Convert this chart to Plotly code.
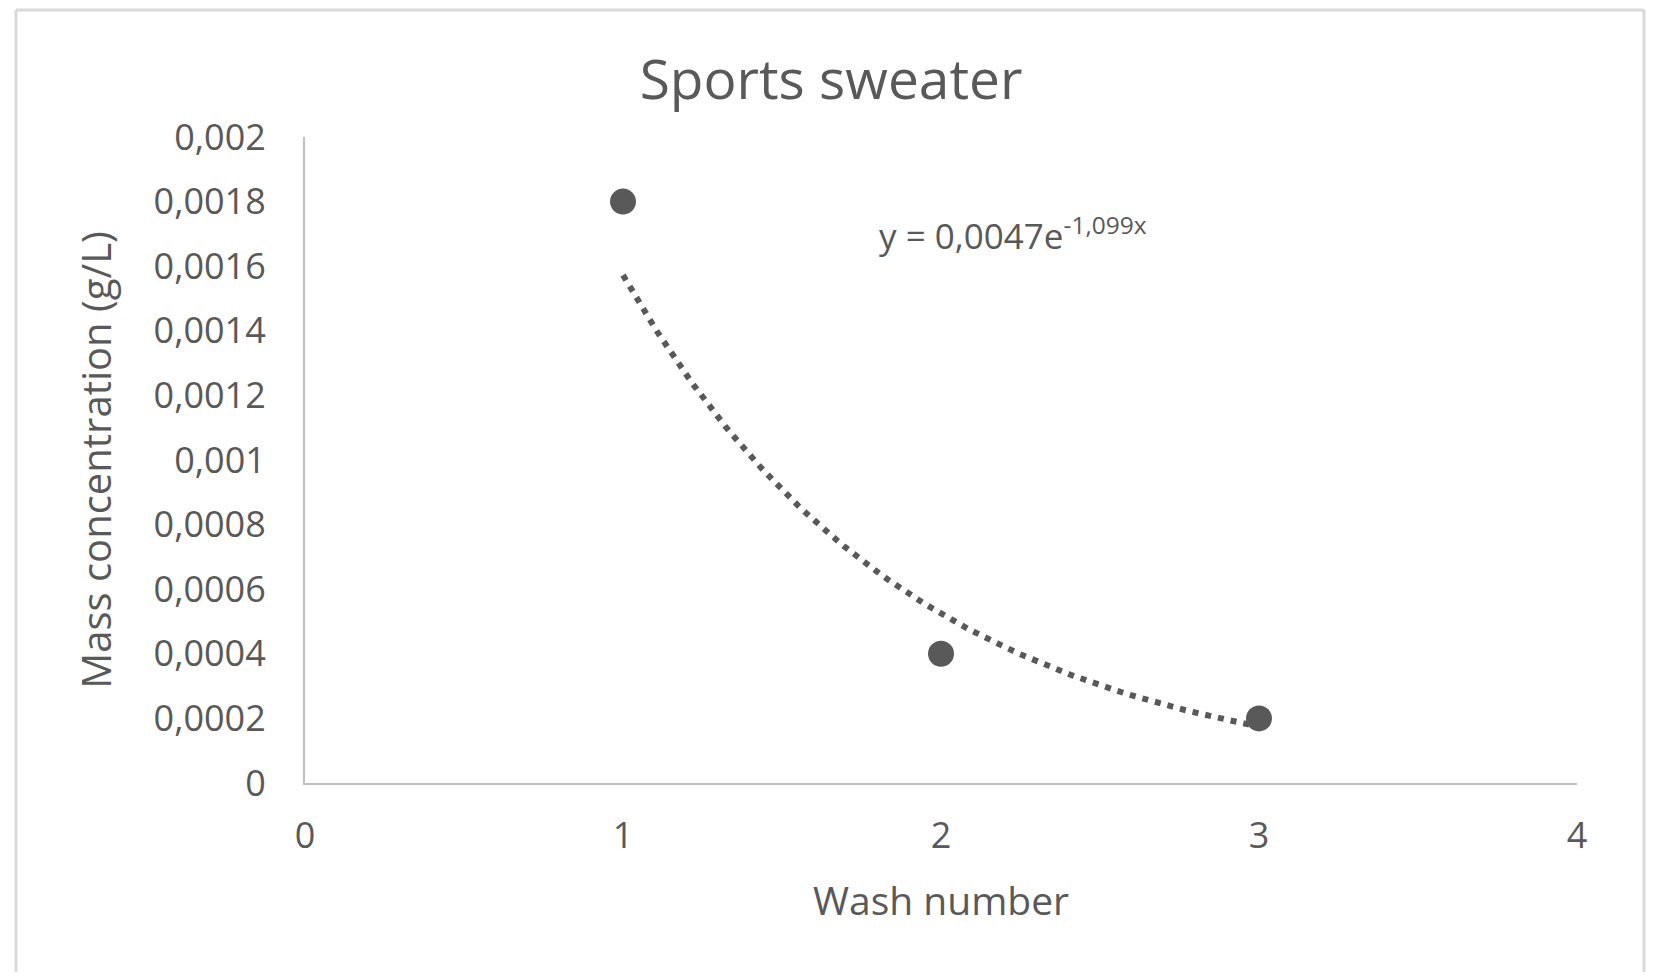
import numpy as np
import plotly.graph_objects as go

# ---- data ----
wash_number = [1, 2, 3]
mass_conc = [0.0018, 0.0004, 0.0002]

y_tickvals = [0, 0.0002, 0.0004, 0.0006, 0.0008, 0.001, 0.0012, 0.0014, 0.0016, 0.0018, 0.002]
y_ticktext = ["0", "0,0002", "0,0004", "0,0006", "0,0008", "0,001", "0,0012", "0,0014", "0,0016", "0,0018", "0,002"]
x_tickvals = [0, 1, 2, 3, 4]
x_ticktext = ["0", "1", "2", "3", "4"]

# exponential trendline fitted from the data (as Excel does): ln y = ln a + b x
b, ln_a = np.polyfit(np.array(wash_number, float), np.log(mass_conc), 1)
a = float(np.exp(ln_a))
x_fit = np.linspace(min(wash_number), max(wash_number), 200)
y_fit = a * np.exp(b * x_fit)

def fmt(v, n):
    return f"{v:.{n}f}".replace(".", ",")

eq_text = f"y = {fmt(a, 4)}e<sup>{fmt(b, 3)}x</sup>"

TXT = "#595959"
FONT = "Open Sans"

OFF = 8  # page body margin
W, H = 1658 - 2 * OFF, 980 - 2 * OFF
# plot area in page pixels: left 305, right 1577, top 137, bottom 783
ML = 305 - OFF
MR = W - (1577 - OFF)
MT = 137 - OFF
MB = H - (783 - OFF)
PW, PH = W - ML - MR, H - MT - MB

def px_x(p):  # page pixel -> paper
    return (p - OFF - ML) / PW

def px_y(p):
    return (H - MB - (p - OFF)) / PH

fig = go.Figure()
fig.add_trace(go.Scatter(
    x=x_fit, y=y_fit, mode="lines",
    line=dict(color=TXT, width=6, dash="6px,7px"),
    hoverinfo="skip", showlegend=False))
fig.add_trace(go.Scatter(
    x=wash_number, y=mass_conc, mode="markers",
    marker=dict(color=TXT, size=26),
    showlegend=False))

fig.add_annotation(
    x=1.8, y=0.0017, xref="x", yref="y", xanchor="left", yanchor="middle",
    text=eq_text, showarrow=False,
    font=dict(family=FONT, size=35, color=TXT))

# outer chart frame (bottom edge out of view)
frame = dict(color="#d9d9d9", width=3)
top_px = OFF + 2
fig.add_shape(type="line", xref="paper", yref="paper",
              x0=px_x(16), x1=px_x(16), y0=px_y(top_px), y1=px_y(1000), line=frame)
fig.add_shape(type="line", xref="paper", yref="paper",
              x0=px_x(16), x1=px_x(1644), y0=px_y(top_px), y1=px_y(top_px), line=frame)
fig.add_shape(type="line", xref="paper", yref="paper",
              x0=px_x(1644), x1=px_x(1644), y0=px_y(top_px), y1=px_y(1000), line=frame)

fig.update_layout(
    width=W, height=H,
    margin=dict(l=ML, r=MR, t=MT, b=MB, autoexpand=False),
    paper_bgcolor="white", plot_bgcolor="white",
    font=dict(family=FONT, color=TXT),
    title=dict(text="Sports sweater", x=(831 - OFF) / W, xref="container", xanchor="center",
               y=1 - (80 - OFF) / H, yref="container", yanchor="middle",
               font=dict(family=FONT, size=55, color=TXT)),
    xaxis=dict(range=[0, 4], tickvals=x_tickvals, ticktext=x_ticktext,
               showgrid=False, zeroline=False, showline=True, linecolor="#bfbfbf", linewidth=2,
               ticks="", ticklabelstandoff=20,
               tickfont=dict(family=FONT, size=36, color=TXT),
               title=dict(text="Wash number", standoff=29,
                          font=dict(family=FONT, size=39, color=TXT))),
    yaxis=dict(range=[0, 0.002], tickvals=y_tickvals, ticktext=y_ticktext,
               showgrid=False, zeroline=False, showline=True, linecolor="#bfbfbf", linewidth=2,
               ticks="", ticklabelstandoff=30,
               tickfont=dict(family=FONT, size=36, color=TXT),
               title=dict(text="Mass concentration (g/L)", standoff=30,
                          font=dict(family=FONT, size=40, color=TXT))),
)

fig.write_html("out.html")
